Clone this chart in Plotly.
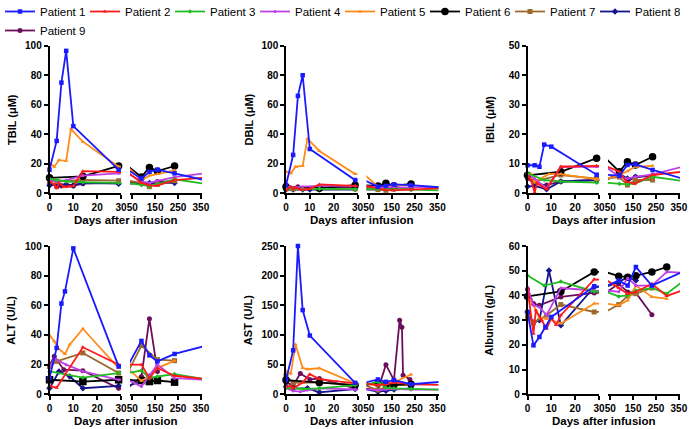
import plotly.graph_objects as go

PATIENTS = [f"Patient {i}" for i in range(1, 10)]
COLORS = ["#1a1aff", "#ff1a1a", "#22bb22", "#c040e8", "#ff8c1a",
          "#000000", "#9c6a2e", "#14148c", "#6b0f5c"]
SYMBOLS = ["square", "triangle-up", "diamond", "circle", "triangle-up",
           "circle", "square", "diamond", "circle"]
SIZES = [4.5, 4, 3.5, 3, 4, 7.5, 5, 5, 5]

# ---------------- data (days after infusion, values) ----------------
TBIL_X = [
    [0, 3, 5, 7, 10, 29, 90, 125, 160, 235, 365],
    [0, 2, 3, 4, 6, 8, 10, 14, 29, 90, 120, 155, 235, 365],
    [0, 3, 7, 14, 29, 90, 125, 160, 235, 365],
    [0, 3, 7, 14, 29, 90, 125, 160, 235, 365],
    [0, 2, 4, 7, 9, 14, 29, 90, 125, 160, 235],
    [0, 14, 29, 90, 125, 160, 235],
    [0, 3, 14, 29, 90, 125, 160, 235],
    [0, 3, 7, 10, 14, 29, 90, 125, 160, 235],
    [0, 3, 5, 7, 10, 14, 29, 90, 125, 160, 235],
]
TBIL_Y = [
    [16, 35.5, 75, 96.5, 45.5, 16, 10, 14.5, 16, 13.5, 9],
    [8, 6, 3.5, 7, 4.5, 4.5, 5, 15, 14.5, 7, 5.5, 5, 9, 10.5],
    [10, 9, 8, 7.5, 7, 5.5, 5, 6, 9.5, 6.5],
    [9, 8, 9, 12, 13.5, 8, 7, 8.5, 11, 13.5],
    [20.5, 18, 22.5, 22, 43.5, 35, 18, 9, 12, 13, 15.5],
    [10.5, 11.5, 18.5, 11, 17.5, 15, 18.5],
    [8.5, 8, 9, 8.5, 7, 4.5, 6, 8.5],
    [5.2, 6, 6, 5.5, 7, 6.5, 7, 7, 7, 7],
    [7, 4.5, 5, 5.5, 5, 6.5, 7, 7, 6, 8, 8],
]

DBIL_X = TBIL_X
DBIL_Y = [
    [5.5, 26, 66, 80, 30, 9, 4.5, 5, 6, 5.5, 4],
    [2.3, 4.5, 2.7, 4, 2.5, 2.5, 3, 6, 5, 3.5, 2.3, 2, 2.7, 3.4],
    [3, 3, 2.5, 3, 2.5, 3, 2.5, 2.5, 2.5, 2],
    [4.5, 4, 4.5, 5, 5, 4, 4, 4.5, 4.5, 4],
    [14.7, 13.5, 18, 18.5, 37, 28.7, 13, 4.5, 3.5, 5.5, 5.5],
    [4.5, 3.5, 5.5, 5, 6.8, 5, 6.3],
    [3, 3, 3.5, 3, 2.5, 2, 3, 3.5],
    [2.5, 2.5, 2.5, 2.5, 2.5, 3, 3, 3, 3, 3],
    [3.5, 3, 4.5, 3, 3.5, 4, 4, 3, 3, 3.5, 3.5],
]

IBIL_X = [
    [0, 3, 5, 7, 10, 29, 90, 125, 160, 235, 365],
    [0, 1.5, 3, 4, 8, 14, 29, 90, 120, 155, 235, 365],
    [0, 7, 14, 29, 90, 125, 160, 235, 365],
    [0, 3, 8, 14, 29, 90, 125, 160, 235, 365],
    [0, 1.5, 3, 9, 14, 29, 90, 125, 160, 235],
    [0, 14, 29, 90, 125, 160, 235],
    [0, 3, 14, 29, 90, 125, 160, 235],
    [0, 3, 8, 14, 29, 90, 125, 160, 235],
    [0, 3, 8, 14, 29, 90, 125, 160, 235],
]
IBIL_Y = [
    [9.5, 9.5, 9, 16.5, 15.8, 6.3, 6, 9.6, 9.8, 7.9, 5],
    [6, 4.5, 0.3, 3.4, 1.4, 9, 9.3, 7.3, 4, 3.2, 6.2, 7.3],
    [6.8, 4.5, 4, 3.6, 3.2, 3, 3.4, 5.6, 4.2],
    [6.8, 5, 1.7, 9, 9, 5.6, 5, 5.6, 6.4, 9],
    [6.8, 6.5, 4, 6.5, 6.5, 4.7, 6.2, 7.5, 9, 9.3],
    [6.1, 7.3, 11.9, 7.3, 10.7, 9.6, 12.4],
    [5.6, 4, 6.2, 5, 5.5, 2.8, 4.5, 4.5],
    [2.3, 2.5, 1.4, 4, 4.5, 6.5, 5, 5.5, 6],
    [5, 3.2, 2.8, 4, 4.5, 6.8, 4, 5.6, 6],
]

ALT_X = [
    [0, 3, 5, 6.5, 10, 29, 90, 125, 160, 235, 365],
    [0, 3, 14, 29, 90, 125, 160, 235, 365],
    [0, 14, 29, 90, 125, 160, 235, 365],
    [0, 2, 7, 14, 29, 90, 125, 160, 235, 365],
    [0, 2, 3.5, 6.5, 8.5, 14, 29, 90, 125, 160, 235],
    [0, 14, 29, 90, 125, 160, 235],
    [0, 3, 14, 29, 90, 160, 235],
    [0, 4, 8.5, 14, 29, 90, 125],
    [0, 2, 6, 14, 29, 90, 125, 160],
]
ALT_Y = [
    [10.9, 31.3, 61.2, 69.4, 98.4, 18.8, 36, 26.3, 22.2, 27.2, 32.5],
    [5.7, 4.5, 31.7, 20, 20, 10.9, 17.7, 12.5, 10.4],
    [15.4, 11.3, 14.3, 16, 10.9, 12, 13.6, 10.2],
    [18, 24, 20, 15.5, 9.8, 5.2, 13, 20, 10.9, 9.8],
    [39.9, 35.8, 31.3, 27.2, 33.6, 44.2, 17.7, 9.1, 12, 17.7, 22.7],
    [9.8, 8.6, 9.8, 9.3, 8.6, 9.3, 8.2],
    [18.8, 22.2, 27.9, 14.3, 32.9, 23.4, 22.7],
    [4, 15.4, 12, 4.1, 5.7, 8.6, 12],
    [19.5, 25.6, 16.6, 15.9, 4.1, 12, 51, 15.4],
]

AST_X = [
    [0, 3, 5, 7, 10, 29, 90, 125, 160, 235, 365],
    [0, 2, 3, 7, 10, 14, 29, 90, 125, 160, 235, 365],
    [0, 7, 14, 29, 90, 125, 160, 235, 365],
    [0, 3, 6, 14, 29, 90, 125, 160, 235, 365],
    [0, 2, 4, 7, 9, 14, 29, 90, 125, 160, 235],
    [0, 14, 29, 90, 125, 160, 235],
    [0, 3, 14, 29, 90, 125, 160, 235],
    [0, 3, 9, 14, 29, 90, 125, 160, 235],
    [0, 3, 6, 10, 14, 29, 90, 125, 160, 185, 195, 200, 230, 235],
]
AST_Y = [
    [24, 74, 250, 142, 99, 19.4, 25, 21, 24, 17, 21],
    [12.8, 14, 10, 20, 34, 25.6, 18.3, 15.6, 16.7, 20, 16.7, 16],
    [11, 8.9, 10, 15.6, 21, 11, 10, 8.9, 7.8],
    [10, 5.6, 4.4, 10, 8.3, 7.2, 8, 9, 8, 8],
    [38.9, 35, 83.9, 44.4, 42.2, 43.9, 18.3, 15, 18, 20, 33.3],
    [24, 19.4, 15.6, 18.3, 17, 16, 17],
    [31, 19.4, 20, 15.6, 7.2, 12, 15, 16],
    [12.8, 10, 10, 3.3, 8.9, 4.4, 6, 8, 10],
    [20, 15, 35, 25, 26.7, 10, 7.2, 50, 24, 125, 113, 32, 25, 15.6],
]

ALB_X = [
    [0, 2.5, 5, 7.5, 10, 28, 87, 126, 162, 232, 365],
    [0, 2.5, 3.5, 6, 8, 10, 12, 14, 28, 87, 126, 162, 232, 297, 365],
    [0, 7, 14, 28, 87, 126, 162, 232, 297, 365],
    [0, 2.5, 5, 8, 14, 28, 87, 126, 162, 232, 297, 365],
    [0, 1, 2.5, 5, 8, 14, 28, 87, 126, 162, 232, 297],
    [0, 14, 28, 87, 126, 162, 232, 297],
    [0, 2.5, 8, 14, 28, 87, 126, 162, 232],
    [0, 2.5, 5, 9, 14, 28, 87, 126, 162],
    [0, 2.5, 5, 14, 28, 87, 126, 162, 232],
]
ALB_Y = [
    [33.3, 19.8, 23.2, 27.2, 31.3, 43.7, 46, 44, 51.5, 44, 49.5],
    [43, 24.5, 34, 30, 26.5, 31, 28, 32, 46.5, 43, 40.7, 41.4, 44.7, 39.8, 42],
    [48.1, 44, 45.6, 41.6, 39.6, 40, 42, 43, 40.7, 45.5],
    [43.4, 36, 35.3, 32, 43, 42, 41.5, 47, 44, 44, 49.5, 49.2],
    [38.7, 38, 36, 31, 30.6, 28.6, 36.7, 36, 38, 44, 39.4, 38.7],
    [39.6, 41.6, 49.5, 47.8, 47.4, 48, 49.5, 51.5],
    [31.3, 29, 32, 36.3, 33.3, 36.3, 39.8, 40.7, 43],
    [33.3, 29, 30, 50.1, 27.9, 43.4, 45.4, 47.5, 46],
    [42.5, 36.7, 36, 39.4, 41, 44.7, 41.4, 41, 32.2],
]

# title, x lists, y lists, y max, y tick step, Patient 6 marker symbol
PANELS = [
    ("TBIL (μM)", TBIL_X, TBIL_Y, 100, 20, "circle"),
    ("DBIL (μM)", DBIL_X, DBIL_Y, 100, 20, "circle"),
    ("IBIL (μM)", IBIL_X, IBIL_Y, 50, 10, "circle"),
    ("ALT (U/L)", ALT_X, ALT_Y, 100, 20, "square"),
    ("AST (U/L)", AST_X, AST_Y, 250, 50, "circle"),
    ("Albumin (g/L)", ALB_X, ALB_Y, 60, 10, "circle"),
]
LEFT_TICKS = [0, 10, 20, 30]
RIGHT_TICKS = [50, 150, 250, 350]

# ---------------- layout geometry (pixels) ----------------
W, H = 689, 429
COL_X0 = [49.5, 286, 527.5]
ROWS = [(45.7, 193.3), (246, 394.3)]
LEFT_W = 71.5
RIGHT_START, RIGHT_END = 80.5, 152.5
FONT = "Liberation Sans, Arial, sans-serif"

def px(x):
    return x / W

def py(y):
    return 1 - y / H

fig = go.Figure()
layout = dict(
    width=W, height=H, margin=dict(l=0, r=0, t=0, b=0, autoexpand=False),
    paper_bgcolor="white", plot_bgcolor="white",
    font=dict(family=FONT, color="black"),
    showlegend=True,
    legend=dict(orientation="h", x=0, y=py(-3), xanchor="left", yanchor="top",
                font=dict(family=FONT, size=11.5, color="black"),
                entrywidth=40, entrywidthmode="pixels",
                bgcolor="rgba(0,0,0,0)", tracegroupgap=0),
    annotations=[],
)

axis_common = dict(showline=True, linecolor="black", linewidth=1.5,
                   ticks="outside", ticklen=4, tickwidth=1.5, tickcolor="black",
                   showgrid=False, zeroline=False,
                   tickfont=dict(family=FONT, size=10, color="black", weight="bold"))

for k, (title, XS, YS, ymax, dtick, p6sym) in enumerate(PANELS):
    r, c = divmod(k, 3)
    x0 = COL_X0[c]
    ytop, ybot = ROWS[r]
    xl, xr, yi = 2 * k + 1, 2 * k + 2, k + 1
    layout[f"xaxis{xl}"] = dict(axis_common, domain=[px(x0), px(x0 + LEFT_W)],
                                range=[0, 30], tickvals=LEFT_TICKS, anchor=f"y{yi}")
    layout[f"xaxis{xr}"] = dict(axis_common, domain=[px(x0 + RIGHT_START), px(x0 + RIGHT_END)],
                                range=[40, 355], tickvals=RIGHT_TICKS, anchor=f"y{yi}")
    layout[f"yaxis{yi}"] = dict(axis_common, domain=[py(ybot), py(ytop)],
                                range=[0, ymax], dtick=dtick, anchor=f"x{xl}")
    layout["annotations"].append(dict(
        text=title, textangle=-90, xref="paper", yref="paper",
        x=px(x0 - 38), y=py((ytop + ybot) / 2), xanchor="center", yanchor="middle",
        showarrow=False,
        font=dict(family=FONT, size=11, color="black", weight="bold")))
    layout["annotations"].append(dict(
        text="Days after infusion", xref="paper", yref="paper",
        x=px(x0 + RIGHT_END / 2), y=py(ybot + 27), xanchor="center", yanchor="middle",
        showarrow=False,
        font=dict(family=FONT, size=11.5, color="black", weight="bold")))

    for i in reversed(range(9)):
        sym = p6sym if i == 5 else SYMBOLS[i]
        for side, xa in (("L", xl), ("R", xr)):
            fig.add_trace(go.Scatter(
                x=XS[i], y=YS[i], mode="lines+markers",
                name=PATIENTS[i], legendgroup=PATIENTS[i], legendrank=i + 1,
                showlegend=(k == 0 and side == "L"),
                line=dict(color=COLORS[i], width=1.8),
                marker=dict(symbol=sym, size=SIZES[i], color=COLORS[i]),
                cliponaxis=False,
                xaxis=f"x{xa}", yaxis=f"y{yi}", hoverinfo="skip"))

fig.update_layout(**layout)
fig.write_html("out.html", config={"displayModeBar": False},
               post_script="document.body.style.margin='0';document.body.style.overflow='hidden';")
